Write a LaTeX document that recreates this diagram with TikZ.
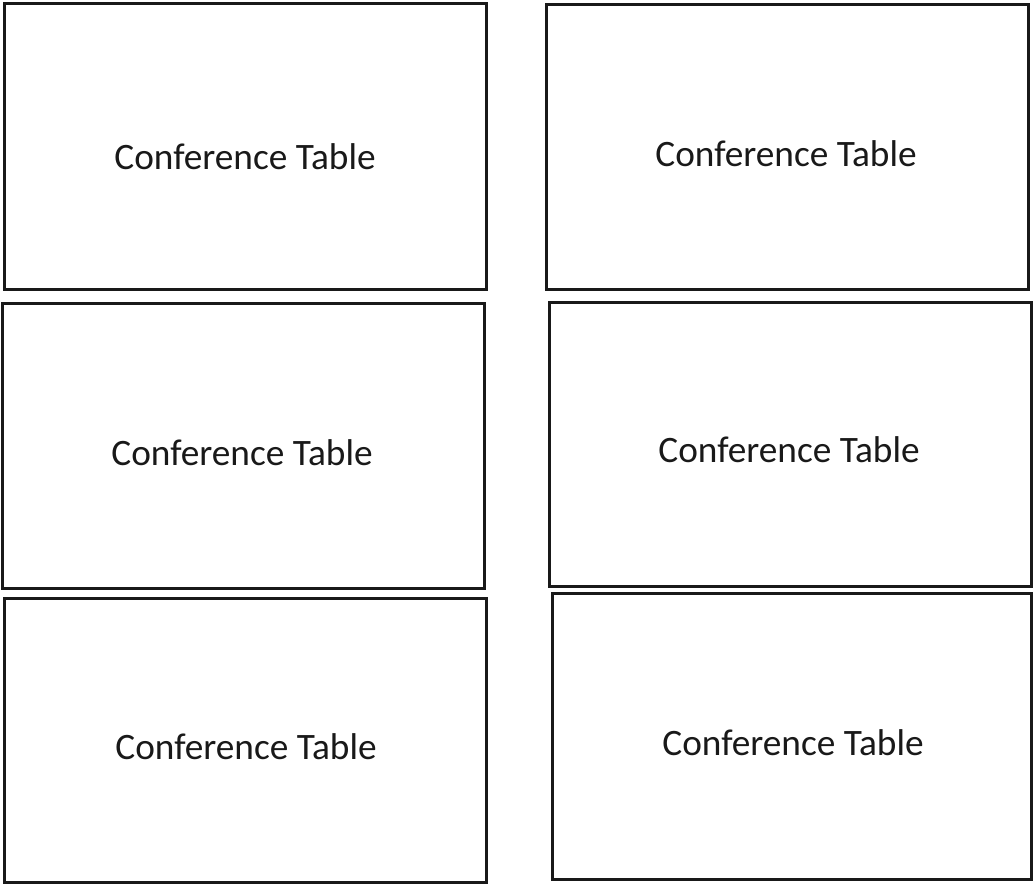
\documentclass[tikz,border=0pt]{standalone}
\usepackage{fontspec}
\setmainfont{Carlito}
\begin{document}
\begin{tikzpicture}[x=1pt,y=-1pt,
  tablebox/.style={draw=black!90,line width=3pt},
  tablelabel/.style={font=\fontsize{37.3}{41}\selectfont,anchor=base,text=black!90,inner sep=0pt}]
\useasboundingbox (0,0) rectangle (1034,884);
\fill[white] (0,0) rectangle (1034,884);
\draw[tablebox] (4,3) rectangle (486,289);
\draw[tablebox] (2,303) rectangle (484,588);
\draw[tablebox] (4,598) rectangle (486,882);
\draw[tablebox] (546,4) rectangle (1028,289);
\draw[tablebox] (549,302) rectangle (1031,586);
\draw[tablebox] (552,593) rectangle (1031,879);
\node[tablelabel] (t1) at (245,169) {Conference Table};
\node[tablelabel] (t2) at (242,465) {Conference Table};
\node[tablelabel] (t3) at (246,759) {Conference Table};
\node[tablelabel] (t4) at (786,166) {Conference Table};
\node[tablelabel] (t5) at (789,462) {Conference Table};
\node[tablelabel] (t6) at (793,755) {Conference Table};
\end{tikzpicture}
\end{document}
